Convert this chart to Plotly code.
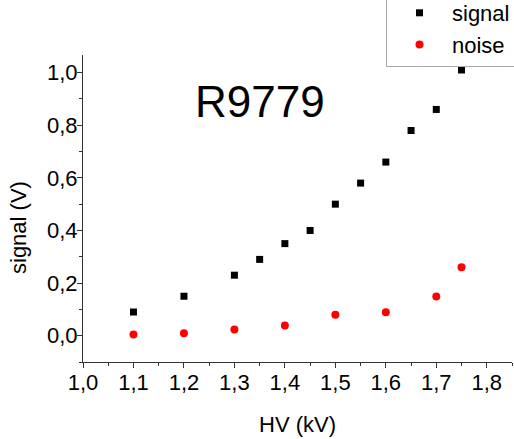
import plotly.graph_objects as go

hv_signal = [1.1, 1.2, 1.3, 1.35, 1.4, 1.45, 1.5, 1.55, 1.6, 1.65, 1.7, 1.75]
signal = [0.09, 0.15, 0.23, 0.29, 0.35, 0.40, 0.50, 0.58, 0.66, 0.78, 0.86, 1.01]
hv_noise = [1.1, 1.2, 1.3, 1.4, 1.5, 1.6, 1.7, 1.75]
noise = [0.005, 0.009, 0.024, 0.039, 0.08, 0.089, 0.149, 0.26]
x_ticks = [1.0, 1.1, 1.2, 1.3, 1.4, 1.5, 1.6, 1.7, 1.8]
y_ticks = [0.0, 0.2, 0.4, 0.6, 0.8, 1.0]

FONT = "Liberation Sans, Arial, sans-serif"
W, H = 514, 439
L, R, T, B = 83, 2, 55, 77
pw, ph = W - L - R, H - T - B

fig = go.Figure()
fig.add_trace(go.Scatter(x=hv_signal, y=signal, mode="markers", name="signal",
                         marker=dict(symbol="square", size=7, color="black")))
fig.add_trace(go.Scatter(x=hv_noise, y=noise, mode="markers", name="noise",
                         marker=dict(symbol="circle", size=8, color="#ff0000")))

axis_common = dict(showline=True, linecolor="#333333", linewidth=1, ticks="outside",
                   ticklen=5, tickcolor="#333333", showgrid=False, zeroline=False,
                   tickfont=dict(size=22, color="black", family=FONT))

fig.update_xaxes(range=[1.0, 1.85], tickvals=x_ticks, tickformat=".1f", ticklabelstandoff=-4,
                 minor=dict(ticks="outside", ticklen=3, tickcolor="#333333", tick0=1.05, dtick=0.1),
                 **axis_common)
fig.update_yaxes(range=[-0.1, 1.067], tickvals=y_ticks, tickformat=".1f", ticklabelstandoff=-5,
                 minor=dict(ticks="outside", ticklen=3, tickcolor="#333333", tick0=0.1, dtick=0.2),
                 **axis_common)

fig.add_annotation(text="R9779", x=1.35, y=0.89, xref="x", yref="y", showarrow=False,
                   font=dict(size=44, color="black", family=FONT))
fig.add_annotation(text="HV (kV)", x=0.5, xref="paper", y=(H - B - 424) / ph, yref="paper",
                   xanchor="center", yanchor="middle",
                   showarrow=False, font=dict(size=22, color="black", family=FONT))
fig.add_annotation(text="signal (V)", x=(18 - L) / pw, xref="paper", y=(H - B - 228) / ph,
                   yref="paper", showarrow=False, textangle=-90,
                   xanchor="center", yanchor="middle",
                   font=dict(size=22, color="black", family=FONT))

fig.update_layout(
    width=W, height=H, margin=dict(l=L, r=R, t=T, b=B, autoexpand=False),
    paper_bgcolor="white", plot_bgcolor="white", separators=",.",
    font=dict(family=FONT, color="black"),
    legend=dict(x=(386 - L) / pw, y=(H - B + 9) / ph, xanchor="left", yanchor="top",
                bordercolor="#aaaaaa", borderwidth=1, bgcolor="white",
                font=dict(size=22, family=FONT, color="black"), itemwidth=55,
                tracegroupgap=0),
    showlegend=True,
)

fig.write_html("out.html", config={"displayModeBar": False},
               post_script="document.body.style.margin='0';")
